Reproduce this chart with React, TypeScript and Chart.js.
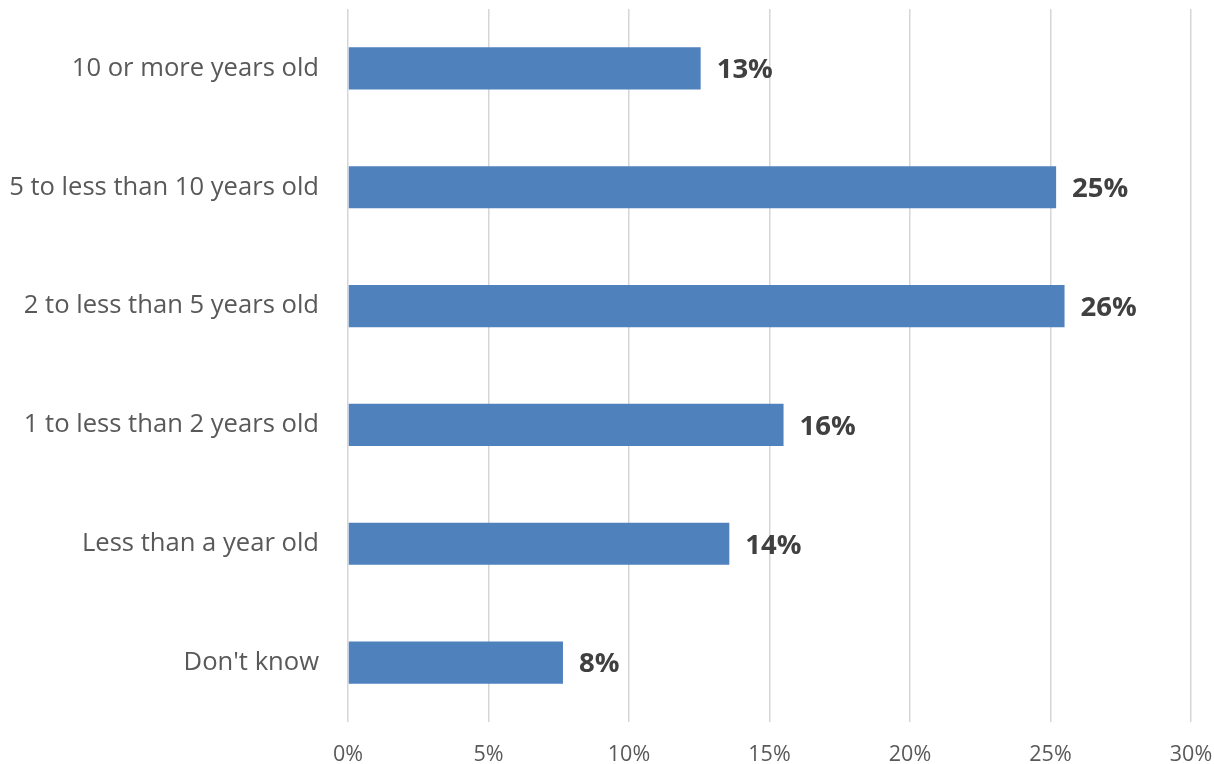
import React, { useEffect, useRef } from "react";
import { Chart, registerables } from "chart.js";

Chart.register(...registerables);

const categories = [
  "10 or more years old",
  "5 to less than 10 years old",
  "2 to less than 5 years old",
  "1 to less than 2 years old",
  "Less than a year old",
  "Don't know",
];
const values = [12.55, 25.2, 25.5, 15.5, 13.57, 7.65];
const xTicks = [0, 5, 10, 15, 20, 25, 30];

const FONT = "'Open Sans', 'Liberation Sans', sans-serif";

const dataLabelPlugin = {
  id: "dataLabels",
  afterDatasetsDraw(chart: any) {
    const ctx = chart.ctx;
    const meta = chart.getDatasetMeta(0);
    ctx.save();
    ctx.font = `bold 27.5px ${FONT}`;
    ctx.fillStyle = "#404040";
    ctx.textAlign = "left";
    ctx.textBaseline = "middle";
    meta.data.forEach((bar: any, i: number) => {
      const v = values[i];
      ctx.fillText(`${Math.round(v)}%`, bar.x + 16, bar.y + 2);
    });
    ctx.restore();
  },
};

export default function App() {
  const ref = useRef<HTMLCanvasElement | null>(null);
  useEffect(() => {
    if (!ref.current) return;
    const chart = new Chart(ref.current, {
      type: "bar",
      data: {
        labels: categories,
        datasets: [
          {
            data: values,
            backgroundColor: "#4f81bd",
            borderWidth: 0,
            categoryPercentage: 1,
            barPercentage: 0.355,
          },
        ],
      },
      options: {
        indexAxis: "y",
        animation: false,
        responsive: false,
        maintainAspectRatio: false,
        layout: { padding: { top: 9, right: 23, left: 0, bottom: 0 } },
        plugins: {
          legend: { display: false },
          tooltip: { enabled: false },
        },
        scales: {
          x: {
            min: 0,
            max: 30,
            afterBuildTicks: (scale: any) => {
              scale.ticks = xTicks.map((v) => ({ value: v }));
            },
            afterFit: (scale: any) => {
              scale.height = 42;
              scale.paddingLeft = 0;
              scale.paddingRight = 0;
              scale.paddingTop = 0;
              scale.paddingBottom = 0;
            },
            ticks: {
              callback: (v: any) => `${v}%`,
              color: "#595959",
              font: { family: FONT, size: 21.5 },
              padding: 20,
            },
            grid: {
              color: "#d6d6d6",
              lineWidth: 1.5,
              drawTicks: false,
            },
            border: { display: false },
          },
          y: {
            afterFit: (scale: any) => {
              scale.width = 348;
              scale.paddingLeft = 0;
              scale.paddingRight = 0;
              scale.paddingTop = 0;
              scale.paddingBottom = 0;
            },
            ticks: {
              color: "#595959",
              font: { family: FONT, size: 25.6 },
              padding: 29,
            },
            grid: { display: false, drawTicks: false },
            border: { display: false },
          },
        },
      },
      plugins: [dataLabelPlugin],
    });
    return () => chart.destroy();
  }, []);
  return (
    <div style={{ position: "fixed", left: 0, top: 0, width: 1214, height: 764, background: "#fff" }}>
      <canvas ref={ref} width={1214} height={764} style={{ display: "block" }} />
    </div>
  );
}
